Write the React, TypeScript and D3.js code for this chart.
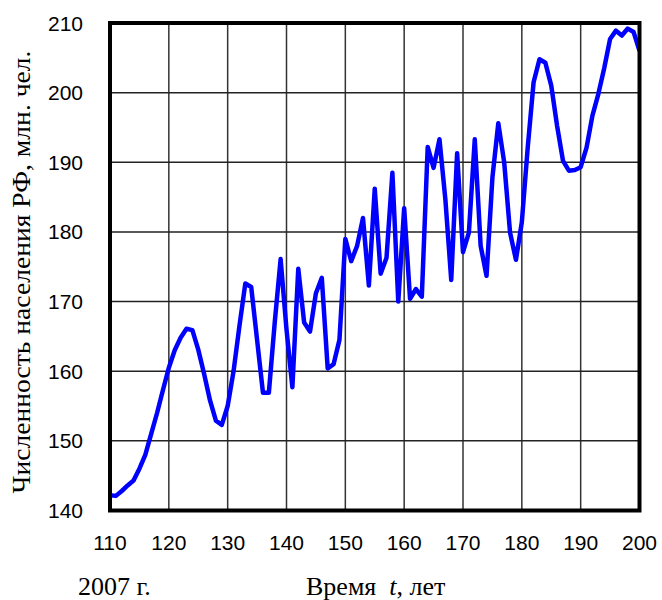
import React from "react";
import * as d3 from "d3";

const years: number[] = d3.range(110, 201);
const population: number[] = [
  142.2, 142.1, 142.8, 143.6, 144.3, 146.0, 148.0, 151.0, 154.0, 157.3,
  160.5, 163.0, 164.8, 166.1, 165.9, 163.1, 159.6, 155.8, 152.9, 152.3,
  155.0, 160.0, 166.5, 172.6, 172.1, 164.5, 156.9, 156.9, 167.0, 176.1,
  166.0, 157.7, 174.7, 167.0, 165.7, 171.2, 173.4, 160.4, 161.0, 164.5,
  179.0, 175.8, 178.0, 182.0, 172.3, 186.2, 174.0, 176.3, 188.5, 170.0,
  183.4, 170.4, 171.8, 170.7, 192.2, 189.2, 193.3, 184.7, 173.1, 191.3,
  177.1, 179.9, 193.3, 178.0, 173.7, 187.8, 195.6, 190.0, 179.9, 176.0,
  181.4, 192.1, 201.5, 204.8, 204.3, 201.0, 195.2, 190.2, 188.8, 188.9,
  189.3, 192.1, 196.7, 199.8, 203.5, 207.7, 208.9, 208.2, 209.2, 208.7,
  206.0,
];
const xTicks: number[] = [110, 120, 130, 140, 150, 160, 170, 180, 190, 200];
const yTicks: number[] = [140, 150, 160, 170, 180, 190, 200, 210];
const yTitle = "Численность населения РФ, млн. чел.";
const yearNote = "2007 г.";

export default function App() {
  const left = 110, right = 639.5, top = 23, bottom = 510.5;
  const x = d3.scaleLinear().domain([110, 200]).range([left, right]);
  const y = d3.scaleLinear().domain([140, 210]).range([bottom, top]);
  const pts: [number, number][] = years.map((t, i) => [x(t), y(population[i])]);
  const line = d3.line<[number, number]>()(pts) || "";
  const sans = "'Liberation Sans', Arial, sans-serif";
  const serif = "'Liberation Serif', 'Times New Roman', serif";
  return (
    <svg width={662} height={600} style={{ position: "absolute", left: 0, top: 0, background: "#fff" }}>
      <defs>
        <clipPath id="plot">
          <rect x={left} y={top} width={right - left} height={bottom - top} />
        </clipPath>
      </defs>
      {xTicks.map((t) => (
        <line key={"gx" + t} x1={x(t)} x2={x(t)} y1={top} y2={bottom} stroke="#333" strokeWidth={1.5} />
      ))}
      {yTicks.map((v) => (
        <line key={"gy" + v} x1={left} x2={right} y1={y(v)} y2={y(v)} stroke="#222" strokeWidth={1.5} />
      ))}
      <path d={line} fill="none" stroke="#0000ff" strokeWidth={4.5} strokeLinejoin="round" clipPath="url(#plot)" />
      <rect x={left} y={top} width={right - left} height={bottom - top} fill="none" stroke="#000" strokeWidth={4} />
      {xTicks.map((t) => (
        <text key={"tx" + t} x={x(t)} y={550} textAnchor="middle" fontFamily={sans} fontSize={21} fill="#000">
          {t}
        </text>
      ))}
      {yTicks.map((v) => (
        <text key={"ty" + v} x={83} y={y(v) + 7.5} textAnchor="end" fontFamily={sans} fontSize={21} fill="#000">
          {v}
        </text>
      ))}
      <text transform="translate(30,272) rotate(-90)" textAnchor="middle" fontFamily={serif} fontSize={26}
        textLength={443} lengthAdjust="spacingAndGlyphs" fill="#000">
        {yTitle}
      </text>
      <text x={78} y={595} fontFamily={serif} fontSize={26} fill="#000">{yearNote}</text>
      <text x={306} y={595} fontFamily={serif} fontSize={26} fill="#000" xmlSpace="preserve">
        <tspan>Время  </tspan>
        <tspan fontStyle="italic">t</tspan>
        <tspan>, лет</tspan>
      </text>
    </svg>
  );
}
